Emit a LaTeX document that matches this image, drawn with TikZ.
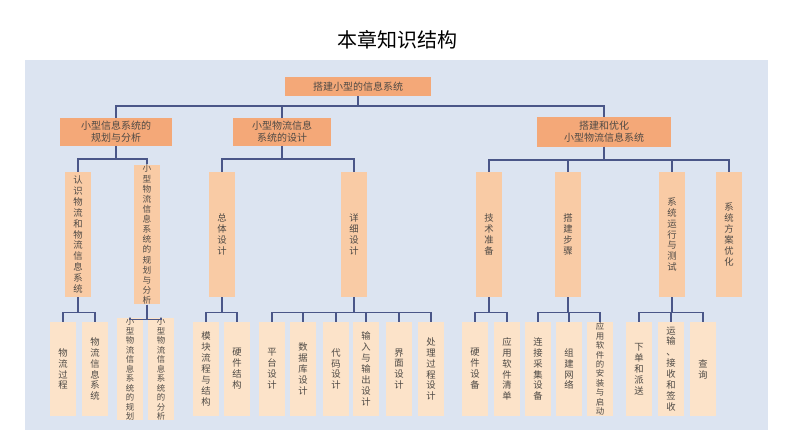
\documentclass[tikz,border=0pt]{standalone}
\usepackage{fontspec}
\setmainfont{Noto Sans CJK SC}
\definecolor{panel}{HTML}{DCE4F1}
\definecolor{boxa}{HTML}{F4A878}
\definecolor{boxb}{HTML}{F9CBA5}
\definecolor{boxc}{HTML}{FCE3C9}
\definecolor{ink}{HTML}{4F4A45}
\definecolor{wirecol}{HTML}{4A5688}
\tikzset{
  topbox/.style={fill=boxa,text=ink,inner sep=0pt,align=center,font=\fontsize{7.5}{9}\selectfont},
  midbox/.style={fill=boxb,text=ink,inner sep=0pt,align=center,minimum width=20pt,minimum height=94pt,font=\fontsize{7}{8.2}\selectfont},
  leafbox/.style={fill=boxc,text=ink,inner sep=0pt,align=center,minimum width=19.5pt,minimum height=70pt,font=\fontsize{7}{8.2}\selectfont},
  treeline/.style={draw=wirecol,line width=1.2pt}
}
\begin{document}
\begin{tikzpicture}[x=0.75pt,y=-0.75pt]
  \useasboundingbox (0,0) rectangle (794,447);
  \fill[panel] (25,60) rectangle (768,430);
  \node (title) at (397,40) {\fontsize{15}{18}\selectfont 本章知识结构};

  % top levels
  \node[topbox,minimum width=110pt,minimum height=14pt] (root) at (358,86.5) {搭建小型的信息系统};
  \node[topbox,minimum width=84pt,minimum height=21pt] (plan) at (116,132) {小型信息系统的\\规划与分析};
  \node[topbox,minimum width=74pt,minimum height=21pt] (design) at (282,132) {小型物流信息\\系统的设计};
  \node[topbox,minimum width=100pt,minimum height=22pt] (build) at (604,132) {搭建和优化\\小型物流信息系统};

  % second level
  \node[midbox] (know) at (78,234.5) {认\\识\\物\\流\\和\\物\\流\\信\\息\\系\\统};
  \node[midbox,font=\fontsize{6.5}{7.6}\selectfont] (plana) at (147,234.5) {小\\型\\物\\流\\信\\息\\系\\统\\的\\规\\划\\与\\分\\析};
  \node[midbox] (total) at (222,234.5) {总\\体\\设\\计};
  \node[midbox] (detail) at (354,234.5) {详\\细\\设\\计};
  \node[midbox] (tech) at (489,234.5) {技\\术\\准\\备};
  \node[midbox] (steps) at (568,234.5) {搭\\建\\步\\骤};
  \node[midbox] (run) at (672,234.5) {系\\统\\运\\行\\与\\测\\试};
  \node[midbox] (opt) at (729,234.5) {系\\统\\方\\案\\优\\化};

  % leaves
  \node[leafbox] (flow) at (63,369) {物\\流\\过\\程};
  \node[leafbox] (flowsys) at (95,369) {物\\流\\信\\息\\系\\统};
  \node[leafbox,font=\fontsize{6.3}{7.1}\selectfont] (planb) at (130,369) {小\\型\\物\\流\\信\\息\\系\\统\\的\\规\\划};
  \node[leafbox,font=\fontsize{6.3}{7.1}\selectfont] (anal) at (161,369) {小\\型\\物\\流\\信\\息\\系\\统\\的\\分\\析};
  \node[leafbox] (module) at (206,369) {模\\块\\流\\程\\与\\结\\构};
  \node[leafbox] (hard) at (237,369) {硬\\件\\结\\构};
  \node[leafbox] (platform) at (272,369) {平\\台\\设\\计};
  \node[leafbox] (db) at (303,369) {数\\据\\库\\设\\计};
  \node[leafbox] (code) at (336,369) {代\\码\\设\\计};
  \node[leafbox] (io) at (366,369) {输\\入\\与\\输\\出\\设\\计};
  \node[leafbox] (ui) at (399,369) {界\\面\\设\\计};
  \node[leafbox] (proc) at (431,369) {处\\理\\过\\程\\设\\计};
  \node[leafbox] (device) at (475,369) {硬\\件\\设\\备};
  \node[leafbox] (apps) at (507,369) {应\\用\\软\\件\\清\\单};
  \node[leafbox] (link) at (538,369) {连\\接\\采\\集\\设\\备};
  \node[leafbox] (net) at (569,369) {组\\建\\网\\络};
  \node[leafbox,font=\fontsize{6.3}{7.1}\selectfont] (install) at (600,369) {应\\用\\软\\件\\的\\安\\装\\与\\启\\动};
  \node[leafbox] (order) at (639,369) {下\\单\\和\\派\\送};
  \node[leafbox] (ship) at (671,369) {运\\输\\、\\接\\收\\和\\签\\收};
  \node[leafbox] (query) at (703,369) {查\\询};

  % connectors
  \foreach \c in {plan,design,build}
    \draw[treeline] (root.south) -- ++(0,10) -| (\c.north);
  \foreach \p/\kids in {plan/{know,plana},design/{total,detail},build/{tech,steps,run,opt}}
    \foreach \c in \kids
      \draw[treeline] (\p.south) -- ++(0,13) -| (\c.north);
  \foreach \p/\kids in {know/{flow,flowsys},plana/{planb,anal},total/{module,hard},
      detail/{platform,db,code,io,ui,proc},tech/{device,apps},steps/{link,net,install},run/{order,ship,query}}
    \foreach \c in \kids
      \draw[treeline] (\p.south) -- ++(0,15) -| (\c.north);
\end{tikzpicture}
\end{document}
